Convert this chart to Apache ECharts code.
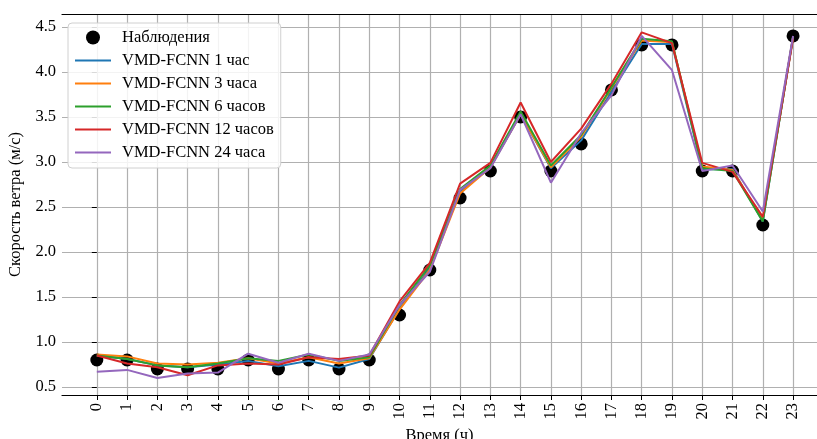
<!DOCTYPE html>
<html>
<head>
<meta charset="utf-8">
<script src="https://cdn.jsdelivr.net/npm/echarts@6/dist/echarts.min.js"></script>
<style>html,body{margin:0;padding:0;background:#fff;}#c{width:817px;height:439px;}</style>
</head>
<body>
<div id="c"></div>
<script>
var hours = [0,1,2,3,4,5,6,7,8,9,10,11,12,13,14,15,16,17,18,19,20,21,22,23];
var yTicks = [0.5,1.0,1.5,2.0,2.5,3.0,3.5,4.0,4.5];
var observed = [0.8,0.8,0.7,0.7,0.7,0.8,0.7,0.8,0.7,0.8,1.3,1.8,2.6,2.9,3.5,2.9,3.2,3.8,4.3,4.3,2.9,2.9,2.3,4.4];
var fc1h  = [0.85,0.81,0.74,0.72,0.75,0.79,0.73,0.79,0.715,0.81,1.37,1.82,2.67,2.94,3.53,2.93,3.24,3.78,4.31,4.31,2.92,2.92,2.34,4.39];
var fc3h  = [0.86,0.84,0.76,0.75,0.77,0.82,0.76,0.83,0.76,0.82,1.36,1.80,2.65,2.94,3.53,2.94,3.28,3.82,4.35,4.33,2.95,2.91,2.36,4.39];
var fc6h  = [0.85,0.81,0.74,0.72,0.76,0.82,0.79,0.86,0.79,0.83,1.41,1.85,2.70,2.96,3.56,2.96,3.30,3.83,4.37,4.34,2.93,2.90,2.34,4.39];
var fc12h = [0.85,0.76,0.72,0.63,0.74,0.76,0.75,0.83,0.81,0.85,1.45,1.88,2.76,2.99,3.66,3.00,3.37,3.87,4.44,4.32,2.99,2.89,2.39,4.37];
var fc24h = [0.67,0.69,0.60,0.65,0.66,0.87,0.77,0.87,0.79,0.86,1.41,1.78,2.69,2.93,3.53,2.77,3.32,3.74,4.40,4.02,2.90,2.96,2.45,4.40];
var names = ['Наблюдения','VMD-FCNN 1 час','VMD-FCNN 3 часа','VMD-FCNN 6 часов','VMD-FCNN 12 часов','VMD-FCNN 24 часа'];
var colors = ['#1f77b4','#ff7f0e','#2ca02c','#d62728','#9467bd'];
var forecasts = [fc1h, fc3h, fc6h, fc12h, fc24h];

function pairs(arr){ return hours.map(function(h,i){ return [h, arr[i]]; }); }

var font = 'Liberation Serif';
var fs = 16.5;
var series = [{
  name: names[0], type: 'scatter', data: pairs(observed),
  symbolSize: 13, itemStyle: {color: '#000', opacity: 1}, z: 2
}];
forecasts.forEach(function(f, k){
  series.push({
    name: names[k+1], type: 'line', data: pairs(f), symbol: 'none',
    lineStyle: {color: colors[k], width: 2}, itemStyle: {color: colors[k]},
    z: 3 + k
  });
});

var lineIcon = 'path://M0,0L36,0L36,2.2L0,2.2Z';
var chart = echarts.init(document.getElementById('c'));
chart.setOption({
  animation: false,
  backgroundColor: '#fff',
  textStyle: {fontFamily: font},
  grid: {left: 62, right: 0, top: 14, bottom: 44, containLabel: false, outerBoundsMode: 'none'},
  legend: {
    orient: 'vertical', left: 68, top: 23,
    padding: [6, 7, 7, 7], itemGap: 6, itemWidth: 36, itemHeight: 14,
    backgroundColor: 'rgba(255,255,255,0.85)', borderColor: '#d0d0d0', borderWidth: 1, borderRadius: 4,
    textStyle: {fontFamily: font, fontSize: fs, color: '#000', padding: [0,0,0,6]},
    data: [{name: names[0], icon: 'circle'}].concat(names.slice(1).map(function(n){ return {name: n, icon: lineIcon}; }))
  },
  xAxis: [{
    type: 'value', min: -1.15, max: 23.79, position: 'bottom',
    name: 'Время (ч)', nameLocation: 'middle', nameGap: 31,
    nameTextStyle: {fontFamily: font, fontSize: fs, color: '#000', verticalAlign: 'top'},
    axisLine: {show: true, lineStyle: {color: '#000', width: 1.2}},
    axisTick: {show: true, length: 5, lineStyle: {color: '#000'}, customValues: hours},
    axisLabel: {rotate: 90, fontFamily: font, fontSize: fs, color: '#000', margin: 8, customValues: hours},
    splitLine: {show: true, lineStyle: {color: '#b0b0b0', width: 1.2}}
  }, {
    type: 'value', min: -1.15, max: 23.79, position: 'top',
    axisLine: {show: true, onZero: false, lineStyle: {color: '#000', width: 1.2}},
    axisTick: {show: false}, axisLabel: {show: false}, splitLine: {show: false}
  }],
  yAxis: {
    type: 'value', min: 0.411, max: 4.644,
    name: 'Скорость ветра (м/с)', nameLocation: 'middle', nameGap: 36,
    nameTextStyle: {fontFamily: font, fontSize: fs, color: '#000'},
    axisLine: {show: false},
    axisTick: {show: true, length: 5, lineStyle: {color: '#000'}, customValues: yTicks},
    axisLabel: {fontFamily: font, fontSize: fs, color: '#000', margin: 6, customValues: yTicks,
      formatter: function(v){ return v.toFixed(1); }},
    splitLine: {show: true, lineStyle: {color: '#b0b0b0', width: 1.2}}
  },
  series: series
});
</script>
</body>
</html>
